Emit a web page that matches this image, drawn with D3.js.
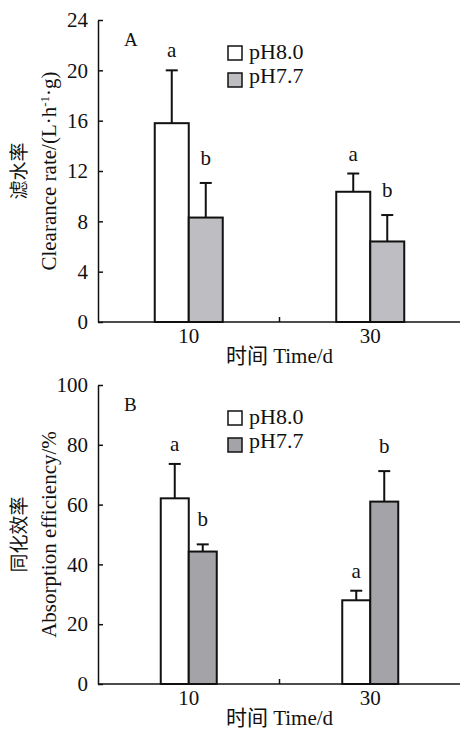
<!DOCTYPE html>
<html>
<head>
<meta charset="utf-8">
<script src="https://cdn.jsdelivr.net/npm/d3@7"></script>
<style>
  body { margin: 0; background: #fff; }
  svg text { font-family: "Times New Roman", "Liberation Serif", "Noto Sans CJK SC", serif !important; fill: #111; }
</style>
</head>
<body>
<div id="chart"></div>
<script>
// datos
const days = ["10", "30"];
const series = ["pH8.0", "pH7.7"];
const yTicksA = [0, 4, 8, 12, 16, 20, 24];
const yTicksB = [0, 20, 40, 60, 80, 100];

// por dia: [pH8.0, pH7.7]
const clearanceMean = [[15.8, 8.3], [10.35, 6.4]];
const clearanceErr = [[4.2, 2.75], [1.45, 2.1]];
const clearanceLetters = [["a", "b"], ["a", "b"]];

const absorptionMean = [[62.1, 44.3], [28.0, 61.0]];
const absorptionErr = [[11.5, 2.4], [3.2, 10.2]];
const absorptionLetters = [["a", "b"], ["a", "b"]];

const W = 461, H = 731;
const svg = d3.select("#chart").append("svg")
    .attr("width", W)
    .attr("height", H);

function drawPanel(opts) {
    const { top, bottom, yMax, ticks, mean, err, letters, barW, grayColor, label, titleCn, titleEn } = opts;
    const left = 98, right = 461;
    const g = svg.append("g");

    const x = d3.scaleBand().domain(days).range([left, right]).padding(0);
    const xs = d3.scaleBand().domain(series).range([0, barW * 2]);
    const y = d3.scaleLinear().domain([0, yMax]).range([bottom, top]);
    const colors = ["#ffffff", grayColor];

    const rows = [];
    days.forEach((d, i) => series.forEach((s, j) => {
        rows.push({ day: d, s: s, j: j, v: mean[i][j], e: err[i][j], l: letters[i][j] });
    }));
    const bx = d => x(d.day) + x.bandwidth() / 2 - barW + xs(d.s);

    // barras
    g.selectAll(".bar").data(rows).enter().append("rect")
        .attr("class", "bar")
        .attr("x", bx)
        .attr("y", d => y(d.v))
        .attr("width", barW)
        .attr("height", d => y(0) - y(d.v))
        .attr("fill", d => colors[d.j])
        .attr("stroke", "#111")
        .attr("stroke-width", 2);

    // barras de error
    g.selectAll(".err").data(rows).enter().append("line")
        .attr("x1", d => bx(d) + barW / 2).attr("x2", d => bx(d) + barW / 2)
        .attr("y1", d => y(d.v)).attr("y2", d => y(d.v + d.e))
        .attr("stroke", "#111").attr("stroke-width", 2);
    g.selectAll(".cap").data(rows).enter().append("line")
        .attr("x1", d => bx(d) + barW / 2 - 6).attr("x2", d => bx(d) + barW / 2 + 6)
        .attr("y1", d => y(d.v + d.e)).attr("y2", d => y(d.v + d.e))
        .attr("stroke", "#111").attr("stroke-width", 2);

    // letras
    g.selectAll(".letter").data(rows).enter().append("text")
        .attr("x", d => bx(d) + barW / 2)
        .attr("y", d => y(d.v + d.e) - (d.l === "a" ? 13 : 18))
        .attr("text-anchor", "middle")
        .style("font-size", "21px")
        .text(d => d.l);

    // Eje Y
    const yAxis = g.append("g")
        .attr("transform", `translate(${left},0)`)
        .call(d3.axisLeft(y).tickValues(ticks).tickSize(-5).tickSizeOuter(0).tickPadding(10));
    yAxis.select(".domain").attr("stroke", "#111").attr("stroke-width", 1.5);
    yAxis.selectAll(".tick line").attr("stroke", "#111").attr("stroke-width", 1.5);
    yAxis.selectAll("text").style("font-size", "21px").attr("fill", "#111");

    // Eje X
    g.append("line")
        .attr("x1", left).attr("x2", right - 1)
        .attr("y1", bottom).attr("y2", bottom)
        .attr("stroke", "#111").attr("stroke-width", 1.5);
    g.append("line")
        .attr("x1", x(days[1])).attr("x2", x(days[1]))
        .attr("y1", bottom).attr("y2", bottom - 5)
        .attr("stroke", "#111").attr("stroke-width", 1.5);
    g.selectAll(".xlab").data(days).enter().append("text")
        .attr("x", d => x(d) + x.bandwidth() / 2)
        .attr("y", bottom + 21)
        .attr("text-anchor", "middle")
        .style("font-size", "21px")
        .text(d => d);
    g.append("text")
        .attr("x", x(days[1]))
        .attr("y", bottom + 41)
        .attr("text-anchor", "middle")
        .style("font-size", "21px")
        .text("时间 Time/d");

    // titulo del eje Y
    const cy = (top + bottom) / 2;
    g.append("text")
        .attr("transform", `translate(26,${cy}) rotate(-90)`)
        .attr("text-anchor", "middle")
        .style("font-size", "19px")
        .text(titleCn);
    const t = g.append("text")
        .attr("transform", `translate(56,${cy}) rotate(-90)`)
        .attr("text-anchor", "middle")
        .style("font-size", "21px");
    titleEn.forEach(p => {
        const ts = t.append("tspan").text(p.t);
        if (p.sup) ts.attr("dy", -7).style("font-size", "13px");
        if (p.after) ts.attr("dy", 7);
    });

    // etiqueta del panel
    g.append("text")
        .attr("x", 124).attr("y", top + 26)
        .style("font-size", "19px")
        .text(label);

    // leyenda
    const lg = g.append("g").attr("transform", `translate(228,${top + 26})`);
    series.forEach((s, j) => {
        lg.append("rect")
            .attr("x", 0).attr("y", j * 27)
            .attr("width", 14).attr("height", 14)
            .attr("fill", colors[j])
            .attr("stroke", "#111").attr("stroke-width", 1.5);
        lg.append("text")
            .attr("x", 21).attr("y", j * 24 + 13)
            .style("font-size", "22px")
            .text(s);
    });
}

drawPanel({
    top: 20, bottom: 322, yMax: 24, ticks: yTicksA,
    mean: clearanceMean, err: clearanceErr, letters: clearanceLetters,
    barW: 34, grayColor: "#bebdc1", label: "A",
    titleCn: "滤水率",
    titleEn: [{ t: "Clearance rate/(L·h" }, { t: "-1", sup: true }, { t: "·g)", after: true }]
});

drawPanel({
    top: 385, bottom: 684, yMax: 100, ticks: yTicksB,
    mean: absorptionMean, err: absorptionErr, letters: absorptionLetters,
    barW: 28, grayColor: "#a4a3a8", label: "B",
    titleCn: "同化效率",
    titleEn: [{ t: "Absorption efficiency/%" }]
});
</script>
</body>
</html>
